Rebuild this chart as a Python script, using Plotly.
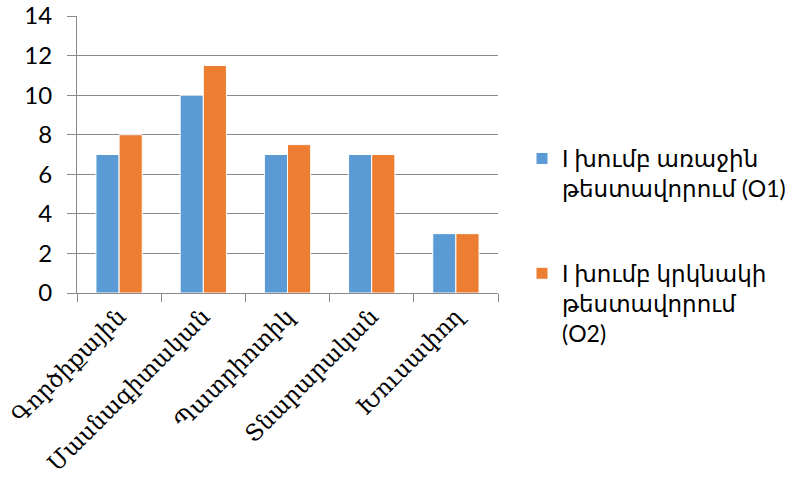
import plotly.graph_objects as go

categories = ["Գործիքային", "Մասնագիտական", "Պատրիոտիկ", "Տնարարական", "Խուսափող"]
series1_name = "I խումբ առաջին<br>թեստավորում (O1)"
series2_name = "I խումբ կրկնակի<br>թեստավորում<br>(O2)"
series1_values = [7, 10, 7, 7, 3]
series2_values = [8, 11.5, 7.5, 7, 3]
y_ticks = [0, 2, 4, 6, 8, 10, 12, 14]

BLUE = "#5B9BD5"
ORANGE = "#ED7D31"
GRID = "#898989"

fig = go.Figure()
fig.add_trace(go.Bar(x=categories, y=series1_values, name=series1_name,
                     marker=dict(color=BLUE, line=dict(color="white", width=1)),
                     legendgroup="a"))
fig.add_trace(go.Bar(x=categories, y=series2_values, name=series2_name,
                     marker=dict(color=ORANGE, line=dict(color="white", width=1)),
                     legendgroup="b"))

fig.update_layout(
    width=798, height=491,
    margin=dict(l=77, r=300, t=16, b=198),
    paper_bgcolor="white", plot_bgcolor="white",
    barmode="group", bargap=0.45, bargroupgap=0,
    showlegend=True,
    legend=dict(xref="container", yref="container",
                x=522 / 798, y=1 - 137 / 491, xanchor="left", yanchor="top",
                font=dict(family="Lato, DejaVu Sans, sans-serif", size=23, color="#000"),
                valign="top", tracegroupgap=52, itemwidth=30),
    font=dict(family="Lato, DejaVu Sans, sans-serif", color="#000"),
)
fig.update_yaxes(range=[0, 14], tickvals=y_ticks, showgrid=True, gridcolor=GRID, gridwidth=1,
                 showline=True, linecolor=GRID, linewidth=1,
                 ticks="outside", ticklen=9, tickcolor=GRID, automargin=False,
                 tickfont=dict(family="Lato, DejaVu Sans, sans-serif", size=24, color="#000"),
                 ticklabelstandoff=10, zeroline=False)
fig.update_xaxes(showline=True, linecolor=GRID, linewidth=1, automargin=False,
                 ticks="outside", ticklen=8, tickcolor=GRID, tickson="boundaries",
                 tickangle=-45,
                 tickfont=dict(family="DejaVu Serif, serif", size=23, color="#000"))

fig.write_html("out.html")
